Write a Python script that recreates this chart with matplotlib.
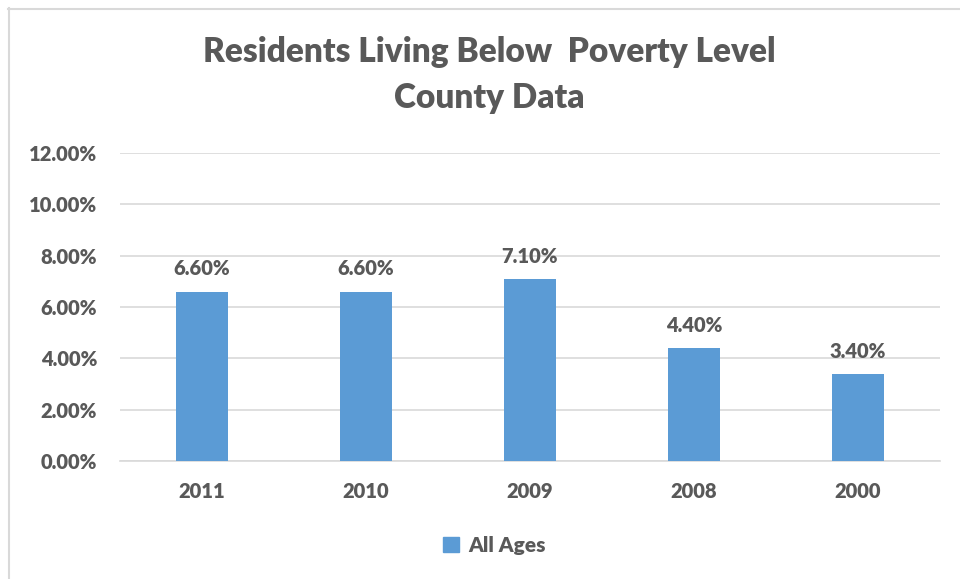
import matplotlib.pyplot as plt
from matplotlib.lines import Line2D
from matplotlib.patches import Patch
from matplotlib.ticker import FuncFormatter

years = ["2011", "2010", "2009", "2008", "2000"]
poverty_pct = [6.60, 6.60, 7.10, 4.40, 3.40]
series_name = "All Ages"

grey = "#595959"
blue = "#5B9BD5"
wt = 800
plt.rcParams["font.family"] = ["Lato", "DejaVu Sans"]
plt.rcParams["font.weight"] = wt

fig = plt.figure(figsize=(9.6, 5.79), dpi=100)
ax = fig.add_axes([0.125, 0.2038, 0.854, 0.532])

x = range(len(years))
bars = ax.bar(x, poverty_pct, width=0.32, color=blue, zorder=3)
for b, v in zip(bars, poverty_pct):
    ax.annotate(f"{v:.2f}%", (b.get_x() + b.get_width() / 2, v),
                xytext=(0, 9.5), textcoords="offset points", ha="center", va="bottom",
                fontsize=14.5, fontweight=wt, color=grey)

ax.set_xlim(-0.5, len(years) - 0.5)
ax.set_ylim(0, 12)
ax.set_yticks(range(0, 13, 2))
ax.yaxis.set_major_formatter(FuncFormatter(lambda v, p: f"{v:.2f}%"))
ax.set_xticks(list(x))
ax.set_xticklabels(years)
ax.grid(axis="y", color="#D9D9D9", linewidth=1.2, zorder=0)
for s in ["top", "right", "left"]:
    ax.spines[s].set_visible(False)
ax.spines["bottom"].set_color("#D9D9D9")
ax.spines["bottom"].set_linewidth(1.2)
ax.tick_params(length=0, labelsize=14.5, labelcolor=grey, pad=15)
ax.tick_params(axis="y", pad=16.5)
for lab in ax.get_xticklabels() + ax.get_yticklabels():
    lab.set_fontweight(wt)

fig.text(0.51, 0.91, "Residents Living Below  Poverty Level", ha="center", va="center",
         fontsize=24, fontweight=wt, color=grey)
fig.text(0.51, 0.831, "County Data", ha="center", va="center",
         fontsize=24, fontweight=wt, color=grey)

fig.legend(handles=[Patch(color=blue, label=series_name)], loc="center",
           bbox_to_anchor=(0.515, 0.0587), frameon=False, handlelength=0.75,
           handleheight=0.75, handletextpad=0.45,
           prop={"size": 15, "weight": wt}, labelcolor=grey)

# outer chart frame (only the top and left edges sit inside the image)
fig.add_artist(Line2D([8.5 / 960, 8.5 / 960], [1 - 8 / 579, 0], color="#D9D9D9", lw=1.5))
fig.add_artist(Line2D([8 / 960, 1], [1 - 8.5 / 579, 1 - 8.5 / 579], color="#D9D9D9", lw=1.5))

fig.savefig("out.png", dpi=100)
